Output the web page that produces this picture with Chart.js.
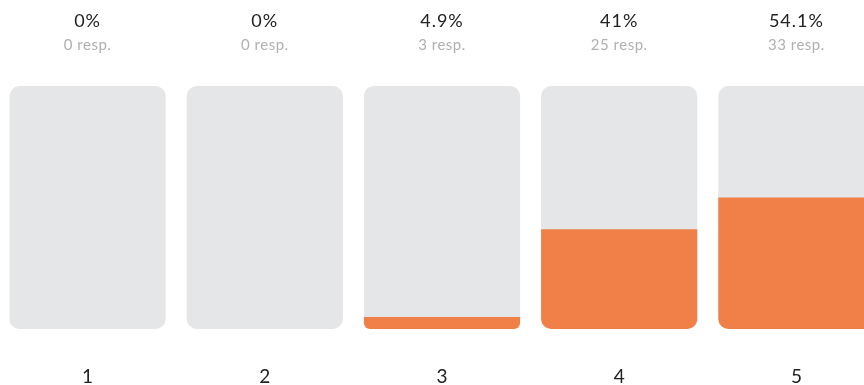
<!DOCTYPE html>
<html>
<head>
<meta charset="utf-8">
<script src="https://cdn.jsdelivr.net/npm/chart.js@4/dist/chart.umd.min.js"></script>
<style>
  html, body { margin: 0; padding: 0; background: #fff; overflow: hidden; }
  #wrap { position: absolute; left: -1px; top: 0; width: 886px; height: 385px; }
</style>
</head>
<body>
<div id="wrap"><canvas id="scale"></canvas></div>
<script>
// Rating scale answers
const ratings = ["1", "2", "3", "4", "5"]
const percents = [0, 0, 4.9, 41, 54.1]
const responses = [0, 0, 3, 25, 33]
const percentLabels = ["0%", "0%", "4.9%", "41%", "54.1%"]

const FONT = "Lato, 'Open Sans', sans-serif"

// Percent + response count above each column
const headerLabels = {
  id: "headerLabels",
  afterDraw(chart) {
    const ctx = chart.ctx
    const x = chart.scales.x
    ctx.save()
    ctx.textAlign = "center"
    ctx.textBaseline = "alphabetic"
    ratings.forEach((r, i) => {
      const px = x.getPixelForValue(i)
      ctx.fillStyle = "#222"
      ctx.font = "18px " + FONT
      ctx.letterSpacing = "1px"
      ctx.fillText(percentLabels[i], px, 27)
      ctx.fillStyle = "#b0b0b0"
      ctx.font = "15px " + FONT
      ctx.letterSpacing = "0.5px"
      ctx.fillText(responses[i] + " resp.", px, 50)
    })
    ctx.restore()
  },
}

new Chart(document.getElementById("scale"), {
  type: "bar",
  data: {
    labels: ratings,
    datasets: [
      {
        data: percents,
        backgroundColor: "#f07f48",
        borderRadius: { topLeft: 0, topRight: 0, bottomLeft: 10, bottomRight: 10 },
        borderSkipped: false,
        barPercentage: 1,
        categoryPercentage: 156 / 177,
      },
      {
        data: ratings.map(() => 100),
        backgroundColor: "#e5e6e8",
        borderRadius: 10,
        borderSkipped: false,
        barPercentage: 1,
        categoryPercentage: 156 / 177,
      },
    ],
  },
  options: {
    responsive: true,
    maintainAspectRatio: false,
    animation: false,
    grouped: false,
    layout: { padding: { top: 86, bottom: 0, left: 0, right: 0 } },
    scales: {
      x: {
        grid: { display: false, drawTicks: false },
        border: { display: false },
        ticks: { padding: 36, color: "#222", font: { size: 19, family: FONT } },
        afterFit(scale) {
          scale.height = 56
        },
      },
      y: { display: false, min: 0, max: 100 },
    },
    plugins: {
      legend: { display: false },
      tooltip: { enabled: false },
    },
  },
  plugins: [headerLabels],
})
</script>
</body>
</html>
